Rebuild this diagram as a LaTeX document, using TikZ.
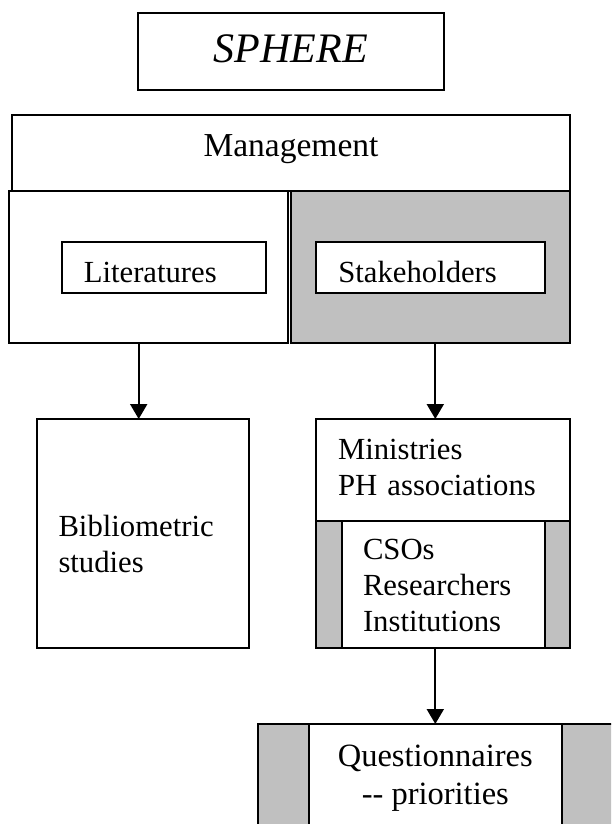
\documentclass[tikz,border=0pt]{standalone}
\usepackage{fontspec}
\setmainfont{Liberation Serif}
\usetikzlibrary{arrows.meta}
\definecolor{panelgray}{HTML}{C0C0C0}

\begin{document}
\begin{tikzpicture}[
  x=1pt, y=-1pt,
  every node/.style={font=\fontsize{30.7}{36}\selectfont, inner sep=0pt, outer sep=0pt},
  frame/.style={draw, line width=2pt, anchor=north west},
  shaded/.style={frame, fill=panelgray},
  link/.style={line width=2pt, -{Triangle[length=15pt, width=17pt]}}
]
\useasboundingbox (0,0) rectangle (611,824);
\clip (0,0) rectangle (611,824);

%% ==== top: title and management ====================================
\node[frame, minimum width=305.5, minimum height=76.7, text depth=6pt,
      font=\fontsize{42}{46}\selectfont\itshape] (sphere) at (138,13.3) {SPHERE};
\node[frame, minimum width=558, minimum height=76, text depth=15pt,
      font=\fontsize{33.5}{38}\selectfont] (mgmt) at (12,115) {Management};

%% ==== panels: literatures / stakeholders ===========================
\node[frame, minimum width=279, minimum height=152.3] (litpanel) at (9,191) {};
\node[shaded, minimum width=279.5, minimum height=152.3] (stkpanel) at (290.5,191) {};
\node[frame, fill=white, minimum height=51, inner xsep=21.4, text height=31pt,
      text depth=0pt, text width=161, align=left] (lit) at (62.4,241.7) {Literatures};
\node[frame, fill=white, minimum height=51, inner xsep=22.6, text height=31pt,
      text depth=0pt, text width=183.9, align=left] (stk) at (315.7,241.7) {Stakeholders};

%% ==== middle row ====================================================
\node[frame, minimum height=228.5, inner xsep=21.5, text height=43pt,
      text width=169, align=left] (biblio) at (37,419) {Bibliometric\\studies};

\node[frame, minimum height=101.5, inner xsep=22, text height=15pt,
      text width=210, align=left] (mins) at (316,419) {Ministries\\PH associations};
\node[shaded, minimum width=254, minimum height=127] (orgpanel) at (316,520.5) {};
\node[frame, fill=white, minimum height=127, inner xsep=21.5, text height=24pt,
      text width=160, align=left] (orgs) at (341.5,520.5) {CSOs\\Researchers\\Institutions};

%% ==== bottom: questionnaires =======================================
\node[shaded, minimum width=400, minimum height=150] (qpanel) at (257.6,724) {};
\node[frame, fill=white, anchor=north, inner ysep=20.5, minimum width=253.4,
      font=\fontsize{32.5}{38}\selectfont, align=center] (quest) at (435.3,724)
  {Questionnaires\\-{}- priorities};

%% ==== arrows ========================================================
\draw[link] ([xshift=-4.3pt]biblio.north |- litpanel.south) -- ([xshift=-4.3pt]biblio.north);
\draw[link] (stkpanel.south -| quest.north) -- (mins.north -| quest.north);
\draw[link] (orgpanel.south -| quest.north) -- (quest.north);

\end{tikzpicture}
\end{document}
